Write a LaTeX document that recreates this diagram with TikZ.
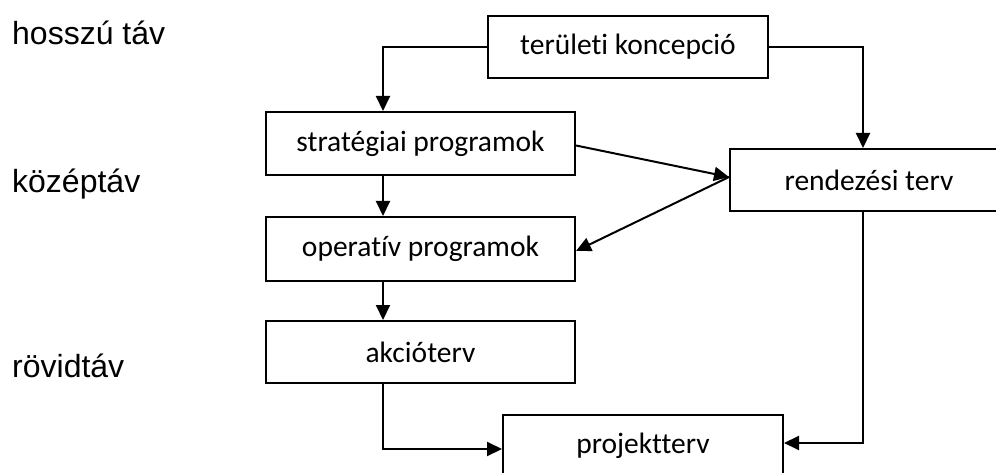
\documentclass[tikz,border=0pt]{standalone}
\usepackage{fontspec}
\setmainfont{Carlito}[Ligatures={NoCommon}]
\newfontfamily\labelfont{Liberation Sans}
\usetikzlibrary{arrows.meta}

\begin{document}
\begin{tikzpicture}[x=1pt,y=-1pt,
  box/.style={draw, line width=2pt, inner sep=0pt, anchor=center,
              font=\fontsize{29.5}{31}\selectfont},
  arr/.style={line width=2pt, -{Triangle[length=15pt,width=14pt]}},
  lvl/.style={anchor=base west, inner sep=0pt,
              font=\labelfont\fontsize{32}{34}\selectfont}]
  \useasboundingbox (0,0) rectangle (996,473);
  \clip (0,0) rectangle (996,473);

  % time horizons
  \node[lvl] (hl) at (12,45)  {hosszú táv};
  \node[lvl] (kl) at (12,193) {középtáv};
  \node[lvl] (rl) at (12,377) {rövidtáv};

  % planning documents
  \node[box, minimum width=280pt, minimum height=62pt] (ter)   at (628,47)    {területi koncepció};
  \node[box, minimum width=309pt, minimum height=63pt] (strat) at (420.5,143.5) {stratégiai programok};
  \node[box, minimum width=278pt, minimum height=62pt] (rend)  at (869,180)   {rendezési terv};
  \node[box, minimum width=309pt, minimum height=64pt] (op)    at (420.5,249) {operatív programok};
  \node[box, minimum width=309pt, minimum height=62pt] (akc)   at (420.5,352) {akcióterv};
  \node[box, minimum width=280pt, minimum height=62pt] (proj)  at (643,446)   {projektterv};

  % vertical lanes of the connectors
  \coordinate (lx) at (383,0);
  \coordinate (rx) at (863,0);

  % connectors
  \draw[arr] (ter.west) -| (lx |- strat.north);
  \draw[arr] (ter.east) -| (rx |- rend.north);
  \draw[arr] ([yshift=-2pt]strat.east) -- ([yshift=3pt]rend.west);
  \draw[arr] ([yshift=3pt]rend.west) -- ([yshift=-2pt]op.east);
  \draw[arr] (lx |- strat.south) -- (lx |- op.north);
  \draw[arr] (lx |- op.south) -- (lx |- akc.north);
  \draw[arr] (lx |- akc.south) |- ([yshift=-3pt]proj.west);
  \draw[arr] (rx |- rend.south) |- ([yshift=3pt]proj.east);
\end{tikzpicture}
\end{document}
